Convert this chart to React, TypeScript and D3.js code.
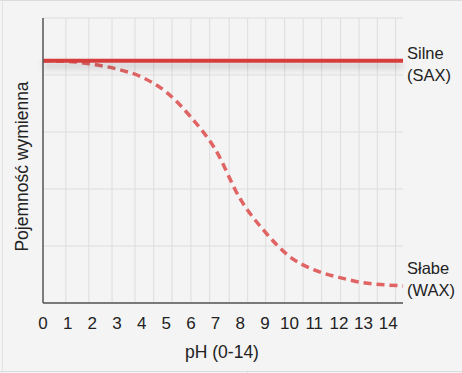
import React from 'react';
import * as d3 from 'd3';

const width = 462;
const height = 373;
const margin = { top: 18, right: 59, bottom: 70, left: 43 };

// pH ticks on the axis
const phTicks = [0, 1, 2, 3, 4, 5, 6, 7, 8, 9, 10, 11, 12, 13, 14];
// background grid columns (pH units, not aligned with ticks)
const gridCols = [0.93, 1.86, 2.8, 3.73, 4.49, 5.23, 6.0, 6.76, 7.55, 8.3, 9.03, 9.8, 10.55, 11.3, 12.07, 12.82, 13.56, 14.3];
const gridRows = [0, 20, 40, 60, 80, 100];

// strong exchanger: constant capacity
const saxPh = [0, 14.6];
const saxCap = [85, 85];

// weak exchanger: capacity falls with pH
const waxPh = [0, 1, 2, 3, 4, 5, 6, 7, 8, 9, 10, 11, 12, 13, 14, 14.6];
const waxCap = [85, 84.8, 83.8, 82.1, 79.3, 74.0, 65.2, 53.7, 36.5, 25.0, 16.3, 11.6, 9.0, 7.1, 6.3, 6.0];

export default function App() {
  const innerW = width - margin.left - margin.right;
  const innerH = height - margin.top - margin.bottom;

  const x = d3.scaleLinear().domain([0, 14.6]).range([0, innerW]);
  const y = d3.scaleLinear().domain([0, 100]).range([innerH, 0]);

  const line = d3.line<[number, number]>()
    .x(d => x(d[0]))
    .y(d => y(d[1]))
    .curve(d3.curveMonotoneX);

  const sax = saxPh.map((p, i) => [p, saxCap[i]] as [number, number]);
  const wax = waxPh.map((p, i) => [p, waxCap[i]] as [number, number]);

  const font = '"Liberation Sans", Arial, sans-serif';

  return (
    <svg width={width} height={height} style={{ position: 'absolute', left: 0, top: 0 }}>
      <defs>
        <filter id="sh" filterUnits="userSpaceOnUse" x={-10} y={y(85) - 20} width={innerW + 20} height={50}>
          <feDropShadow dx="0" dy="5" stdDeviation="3.5" floodColor="#000" floodOpacity="0.22" />
        </filter>
      </defs>
      <rect width={width} height={height} fill="#f4f4f4" />
      <line x1={0} x2={width} y1={0.5} y2={0.5} stroke="#dcdcdc" />
      <line x1={2.5} x2={2.5} y1={0} y2={371} stroke="#e2e2e2" />
      <line x1={0} x2={width} y1={371.5} y2={371.5} stroke="#dcdcdc" />
      <line x1={247.5} x2={247.5} y1={371} y2={height} stroke="#dcdcdc" />
      <g transform={`translate(${margin.left},${margin.top})`}>
        {gridRows.map(r => (
          <line key={'r' + r} x1={0} x2={innerW} y1={y(r)} y2={y(r)} stroke="#dddddd" strokeWidth={1} />
        ))}
        {gridCols.map(c => (
          <line key={'c' + c} x1={x(c)} x2={x(c)} y1={0} y2={innerH} stroke="#dddddd" strokeWidth={1} />
        ))}
        <path d={line(wax) || ''} fill="none" stroke="#e06464" strokeWidth={3.5} strokeDasharray="8 5" />
        <path d={line(sax) || ''} fill="none" stroke="#d63c3c" strokeWidth={4} filter="url(#sh)" />
        <line x1={0} x2={0} y1={0} y2={innerH} stroke="#555" strokeWidth={1.5} />
        <line x1={0} x2={innerW} y1={innerH} y2={innerH} stroke="#555" strokeWidth={1.5} />
        {phTicks.map(t => (
          <text key={t} x={x(t)} y={innerH + 26} textAnchor="middle" fontFamily={font} fontSize={17} fill="#222">{t}</text>
        ))}
        <text x={innerW / 2 - 1} y={innerH + 55} textAnchor="middle" fontFamily={font} fontSize={17.5} fill="#222">pH (0-14)</text>
        <text transform={`translate(-15,${innerH / 2 + 6}) rotate(-90)`} textAnchor="middle" fontFamily={font} fontSize={17.5} fill="#222">Pojemność wymienna</text>
        <g fontFamily={font} fontSize={16.5} fill="#222">
          <text x={innerW + 4} y={y(85) - 2}>Silne</text>
          <text x={innerW + 4} y={y(85) + 20}>(SAX)</text>
          <text x={innerW + 4} y={y(6) - 12}>Słabe</text>
          <text x={innerW + 4} y={y(6) + 10}>(WAX)</text>
        </g>
      </g>
    </svg>
  );
}
